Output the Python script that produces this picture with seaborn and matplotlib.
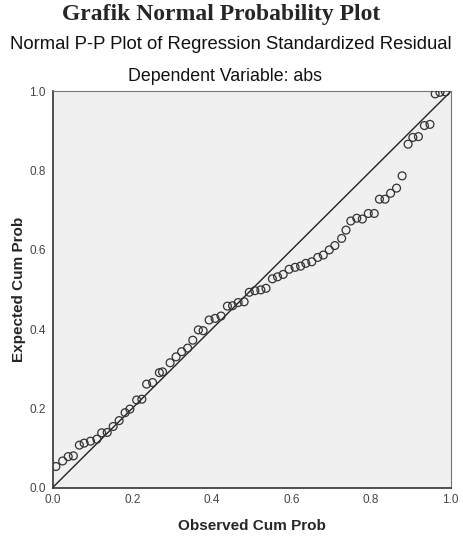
#!/usr/bin/env python3
# coding=utf-8
import matplotlib
matplotlib.use('Agg')
import matplotlib.pyplot as plt
import pandas as pd
import seaborn as sns

# values
observed = [0.008, 0.025, 0.039, 0.052, 0.067, 0.079, 0.095, 0.111, 0.123, 0.137,
            0.152, 0.167, 0.182, 0.194, 0.211, 0.224, 0.236, 0.251, 0.268, 0.276,
            0.295, 0.310, 0.324, 0.339, 0.352, 0.366, 0.378, 0.393, 0.408, 0.423,
            0.439, 0.452, 0.466, 0.481, 0.494, 0.508, 0.523, 0.536, 0.552, 0.565,
            0.579, 0.594, 0.609, 0.623, 0.636, 0.651, 0.666, 0.680, 0.695, 0.709,
            0.726, 0.737, 0.749, 0.764, 0.778, 0.793, 0.808, 0.821, 0.835, 0.849,
            0.864, 0.878, 0.893, 0.905, 0.919, 0.934, 0.948, 0.961, 0.973, 0.987]
expected = [0.053, 0.067, 0.078, 0.080, 0.107, 0.112, 0.117, 0.122, 0.138, 0.139,
            0.154, 0.169, 0.189, 0.198, 0.221, 0.223, 0.261, 0.265, 0.290, 0.292,
            0.315, 0.330, 0.343, 0.352, 0.372, 0.398, 0.396, 0.423, 0.427, 0.433,
            0.458, 0.459, 0.467, 0.469, 0.493, 0.497, 0.499, 0.503, 0.527, 0.532,
            0.538, 0.551, 0.556, 0.559, 0.566, 0.570, 0.581, 0.587, 0.600, 0.611,
            0.629, 0.650, 0.673, 0.680, 0.678, 0.692, 0.692, 0.728, 0.728, 0.743,
            0.756, 0.787, 0.867, 0.884, 0.886, 0.914, 0.917, 0.994, 0.998, 0.999]
ref_line = [0.0, 1.0]
ticks = [0.0, 0.2, 0.4, 0.6, 0.8, 1.0]
tick_labels = ['0.0', '0.2', '0.4', '0.6', '0.8', '1.0']

df = pd.DataFrame({'observed': observed, 'expected': expected})
df_line = pd.DataFrame({'x': ref_line, 'y': ref_line})

sns.set_style('white')
plt.rcParams['font.family'] = ['Liberation Sans', 'DejaVu Sans']

fig = plt.figure(figsize=(4.63, 5.43), dpi=100)
ax = fig.add_axes([0.1138, 0.1022, 0.8596, 0.7293])
ax.set_facecolor('#f0f0f0')

sns.lineplot(x='x', y='y', data=df_line, color='#222222', linewidth=1.0, ax=ax)
sns.scatterplot(x='observed', y='expected', data=df, s=32, marker='o',
                facecolor='none', edgecolor='#333333', linewidth=0.9, ax=ax, zorder=3)

ax.set_xlim(0, 1)
ax.set_ylim(0, 1)
ax.set_xticks(ticks)
ax.set_yticks(ticks)
ax.set_xticklabels(tick_labels)
ax.set_yticklabels(tick_labels)
ax.tick_params(axis='both', direction='inout', length=8, width=1, color='#333333',
               labelsize=8.5, labelcolor='#444444', pad=1)

for side in ['left', 'bottom']:
    ax.spines[side].set_color('#333333')
    ax.spines[side].set_linewidth(1.2)
for side in ['top', 'right']:
    ax.spines[side].set_color('#777777')
    ax.spines[side].set_linewidth(0.8)

ax.set_xlabel('Observed Cum Prob', fontsize=11, fontweight='bold', labelpad=9)
ax.set_ylabel('Expected Cum Prob', fontsize=11, fontweight='bold', labelpad=2)

fig.text(0.478, 0.974, 'Grafik Normal Probability Plot', ha='center', va='center',
         fontsize=17, fontweight='bold', family=['Liberation Serif', 'DejaVu Serif'])
fig.text(0.499, 0.918, 'Normal P-P Plot of Regression Standardized Residual',
         ha='center', va='center', fontsize=13.3, color='#111111')
fig.text(0.486, 0.860, 'Dependent Variable: abs', ha='center', va='center',
         fontsize=12.8, color='#111111')

plt.savefig('out.png', dpi=100)
plt.close('all')
